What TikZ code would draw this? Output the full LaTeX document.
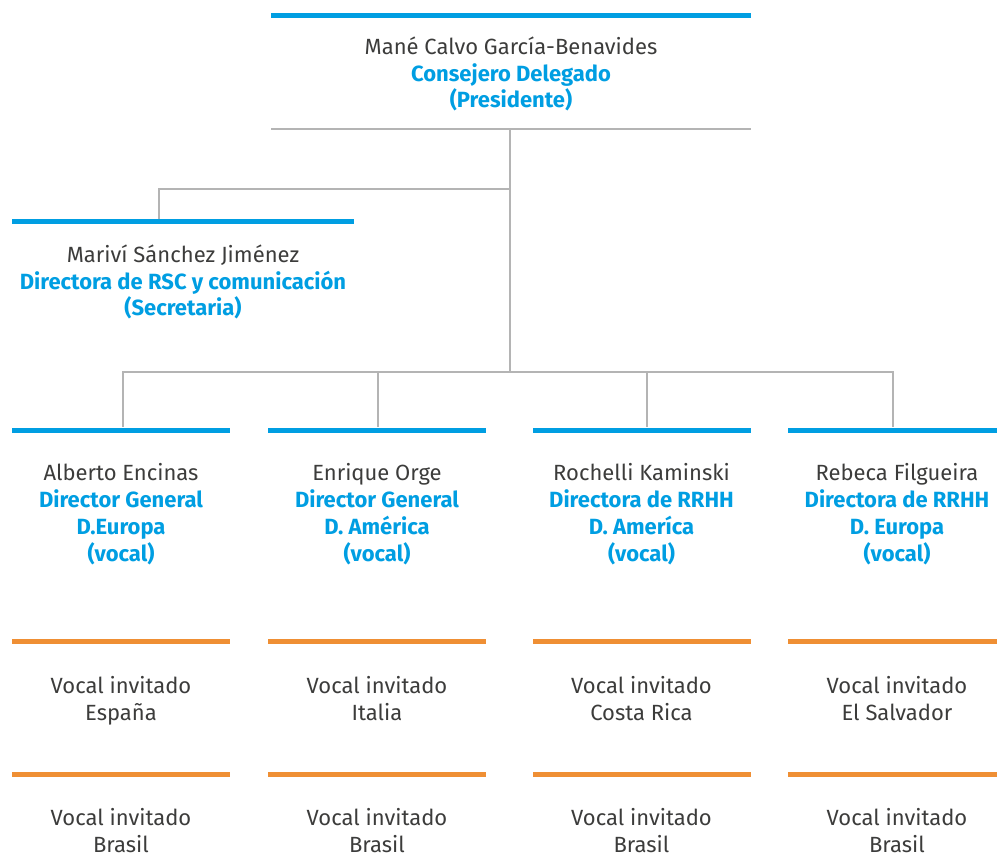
\documentclass[tikz,border=0pt]{standalone}
\usepackage{fontspec}
\setmainfont{Fira Sans}
\usetikzlibrary{positioning,calc}
\definecolor{xBlue}{RGB}{0,158,226}
\definecolor{xOrange}{RGB}{239,143,52}
\definecolor{xText}{RGB}{60,60,59}
\definecolor{xGray}{RGB}{180,180,180}
\newcommand{\role}[1]{{\bfseries\color{xBlue}#1}}

\begin{document}
\begin{tikzpicture}[x=1pt,y=-1pt,
  bbar/.style={fill=xBlue,inner sep=0pt,minimum height=5pt,minimum width=218pt},
  obar/.style={fill=xOrange,inner sep=0pt,minimum height=5pt,minimum width=218pt},
  gbar/.style={fill=xGray,inner sep=0pt,minimum height=2.5pt,minimum width=480pt},
  conn/.style={draw=xGray,line width=2.5pt},
  who/.style={font=\fontsize{22}{26.8}\selectfont,text=xText,align=center,inner sep=0pt,anchor=base}]
  \useasboundingbox (0,0) rectangle (997,853);
  \begin{scope}
  \clip (0,0) rectangle (997,853);
  \node[bbar,minimum width=480pt] (pbar) at (511,16) {};
  \node[who] (pres) at (511,108) {Mané Calvo García-Benavides\\\role{Consejero Delegado}\\\role{(Presidente)}};
  \node[gbar] (pline) at (511,129) {};
  \node[bbar,minimum width=342pt] (sbar) at (183,221.5) {};
  \node[who] (sec) at (183,316) {Mariví Sánchez Jiménez\\\role{Directora de RSC y comunicación}\\\role{(Secretaria)}};
  \coordinate (hub) at (510,372);
  \coordinate (sjoin) at (510,189);
  \node[bbar] (b1) at (121,430) {};
  \node[bbar] (b2) at (377,430) {};
  \node[bbar] (b3) at (641.5,430) {};
  \node[bbar] (b4) at (897,430) {};
  \node[who] (d1) at (121,561) {Alberto Encinas\\\role{Director General}\\\role{D.Europa}\\\role{(vocal)}};
  \node[who] (d2) at (377,561) {Enrique Orge\\\role{Director General}\\\role{D. América}\\\role{(vocal)}};
  \node[who] (d3) at (641.5,561) {Rochelli Kaminski\\\role{Directora de RRHH}\\\role{D. Amer\'{\i}ca}\\\role{(vocal)}};
  \node[who] (d4) at (897,561) {Rebeca Filgueira\\\role{Directora de RRHH}\\\role{D. Europa}\\\role{(vocal)}};
  \foreach \i/\x/\c/\p in {1/121/España/Brasil,2/377/Italia/Brasil,3/641.5/Costa Rica/Brasil,4/897/El Salvador/Brasil}{
    \node[obar] (o\i) at (\x,641.5) {};
    \node[who] (g\i) at (\x,720) {Vocal invitado\\\c};
    \node[obar] (q\i) at (\x,774) {};
    \node[who] (h\i) at (\x,852) {Vocal invitado\\\p};
  }
  \end{scope}
  \draw[conn] (pline.south -| hub) -- (hub);
  \draw[conn] (sjoin) -| (sbar.north -| 159,0);
  \draw[conn] (hub) -- (hub -| 123,0) -- (b1.north -| 123,0);
  \draw[conn] (hub) -- (hub -| 893,0) -- (b4.north -| 893,0);
  \draw[conn] (hub -| 378,0) -- (b2.north -| 378,0);
  \draw[conn] (hub -| 647,0) -- (b3.north -| 647,0);
\end{tikzpicture}
\end{document}
